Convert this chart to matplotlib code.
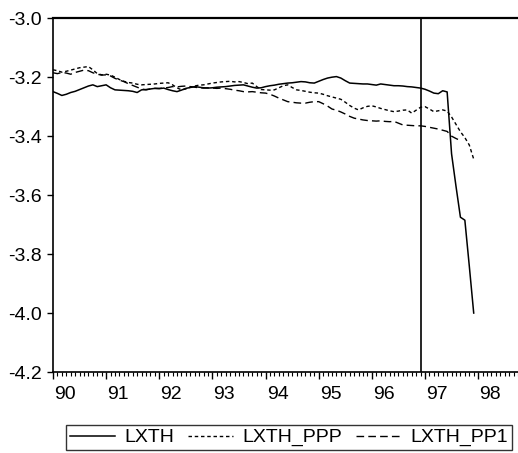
import numpy as np
import matplotlib
matplotlib.use("Agg")
import matplotlib.pyplot as plt
import matplotlib.transforms as mtransforms
from matplotlib.ticker import MultipleLocator, FixedLocator

plt.rcParams['font.family'] = ['Liberation Sans', 'DejaVu Sans']
plt.rcParams['axes.unicode_minus'] = False

# monthly data, 1990:01 onwards
lxth = [
    -3.249, -3.255, -3.262, -3.258, -3.252, -3.248, -3.242, -3.236, -3.230, -3.226, -3.232, -3.229,
    -3.226, -3.236, -3.243, -3.244, -3.245, -3.246, -3.248, -3.252, -3.243, -3.242, -3.240, -3.238,
    -3.239, -3.237, -3.242, -3.246, -3.249, -3.244, -3.238, -3.235, -3.232, -3.234, -3.236, -3.237,
    -3.236, -3.234, -3.233, -3.232, -3.230, -3.228, -3.227, -3.226, -3.230, -3.234, -3.237, -3.236,
    -3.232, -3.229, -3.227, -3.224, -3.222, -3.220, -3.219, -3.217, -3.215, -3.216, -3.219, -3.220,
    -3.214, -3.208, -3.203, -3.200, -3.198, -3.203, -3.212, -3.220, -3.221, -3.222, -3.223, -3.223,
    -3.225, -3.227, -3.223, -3.225, -3.227, -3.229, -3.229, -3.230, -3.232, -3.233, -3.235, -3.237,
    -3.241, -3.247, -3.254, -3.256, -3.246, -3.250, -3.460, -3.570, -3.675, -3.685, -3.840, -4.000,
]

lxth_ppp = [
    -3.175, -3.178, -3.183, -3.180, -3.176, -3.172, -3.168, -3.166, -3.164, -3.175, -3.188, -3.192,
    -3.190, -3.193, -3.200, -3.208, -3.214, -3.218, -3.220, -3.224, -3.226, -3.225, -3.224, -3.223,
    -3.221, -3.220, -3.219, -3.226, -3.236, -3.243, -3.240, -3.234, -3.230, -3.227, -3.226, -3.223,
    -3.220, -3.218, -3.216, -3.215, -3.214, -3.216, -3.215, -3.218, -3.222, -3.220, -3.232, -3.242,
    -3.243, -3.244, -3.243, -3.236, -3.229, -3.226, -3.235, -3.243, -3.245, -3.248, -3.251, -3.253,
    -3.254, -3.258, -3.263, -3.267, -3.271, -3.275, -3.285, -3.296, -3.305, -3.311, -3.304, -3.299,
    -3.297, -3.301, -3.306, -3.310, -3.314, -3.317, -3.315, -3.312, -3.311, -3.322, -3.312, -3.302,
    -3.300, -3.308, -3.317, -3.314, -3.311, -3.315, -3.335, -3.360, -3.385, -3.405, -3.430, -3.478,
]

lxth_pp1 = [
    -3.185, -3.188, -3.184, -3.186, -3.190, -3.184, -3.180, -3.176, -3.178, -3.185, -3.190, -3.193,
    -3.192, -3.196, -3.204, -3.210, -3.215, -3.222, -3.228, -3.234, -3.240, -3.243, -3.240, -3.238,
    -3.238, -3.237, -3.235, -3.232, -3.233, -3.231, -3.230, -3.232, -3.234, -3.236, -3.237, -3.236,
    -3.237, -3.238, -3.237, -3.239, -3.241, -3.244, -3.246, -3.249, -3.250, -3.249, -3.251, -3.253,
    -3.254, -3.258, -3.264, -3.271, -3.277, -3.283, -3.285, -3.287, -3.288, -3.288, -3.285, -3.283,
    -3.283, -3.290, -3.298, -3.308, -3.312, -3.318, -3.325, -3.333, -3.339, -3.342, -3.345, -3.347,
    -3.348, -3.349, -3.348, -3.350, -3.351, -3.350, -3.356, -3.362, -3.363, -3.364, -3.365, -3.365,
    -3.367, -3.370, -3.373, -3.376, -3.380, -3.384, -3.400, -3.408, -3.415,
]

years = [90, 91, 92, 93, 94, 95, 96, 97, 98]
yticks = [-4.2, -4.0, -3.8, -3.6, -3.4, -3.2, -3.0]
vline_at = 96.92

t = 90 + np.arange(len(lxth)) / 12.0
t_pp1 = 90 + np.arange(len(lxth_pp1)) / 12.0

fig = plt.figure(figsize=(5.18, 4.53), dpi=100)
ax = fig.add_axes([0.1023, 0.1788, 0.91, 0.781])

ax.plot(t, lxth, color='black', lw=1.1, label='LXTH')
ax.plot(t, lxth_ppp, color='black', lw=1.0, linestyle=(0, (2.5, 2.0)), label='LXTH_PPP')
ax.plot(t_pp1, lxth_pp1, color='black', lw=1.0, linestyle=(0, (5.5, 3.0)), label='LXTH_PP1')
ax.axvline(vline_at, color='black', lw=1.2)

ax.set_xlim(90, 98.87)
ax.set_ylim(-4.2, -3.0)

ax.set_yticks(yticks)
ax.set_yticklabels(['%.1f' % v for v in yticks])
ax.xaxis.set_major_locator(FixedLocator(years))
ax.set_xticklabels([str(y) for y in years])
ax.xaxis.set_minor_locator(MultipleLocator(1 / 12.0))

ax.tick_params(axis='both', which='major', labelsize=14, direction='out', length=4, width=1, color='black')
ax.tick_params(axis='x', which='major', length=5, pad=5)
ax.tick_params(axis='x', which='minor', direction='out', length=3, width=0.8)
ax.tick_params(axis='y', pad=4)

# shift year labels slightly right, like the original
offset = mtransforms.ScaledTranslation(0.12, 0, fig.dpi_scale_trans)
for lab in ax.get_xticklabels():
    lab.set_transform(lab.get_transform() + offset)

for s in ['left', 'bottom']:
    ax.spines[s].set_linewidth(1.2)
ax.spines['top'].set_linewidth(1.6)
ax.spines['right'].set_visible(False)

leg = fig.legend(loc='center', bbox_to_anchor=(0.558, 0.034), bbox_transform=fig.transFigure,
                 ncol=3, frameon=True, fancybox=False, fontsize=14, handlelength=2.3,
                 handletextpad=0.5, columnspacing=0.7, borderpad=0.2, borderaxespad=0)
leg.get_frame().set_edgecolor('black')
leg.get_frame().set_linewidth(1.0)

fig.savefig('out.png', dpi=100)
